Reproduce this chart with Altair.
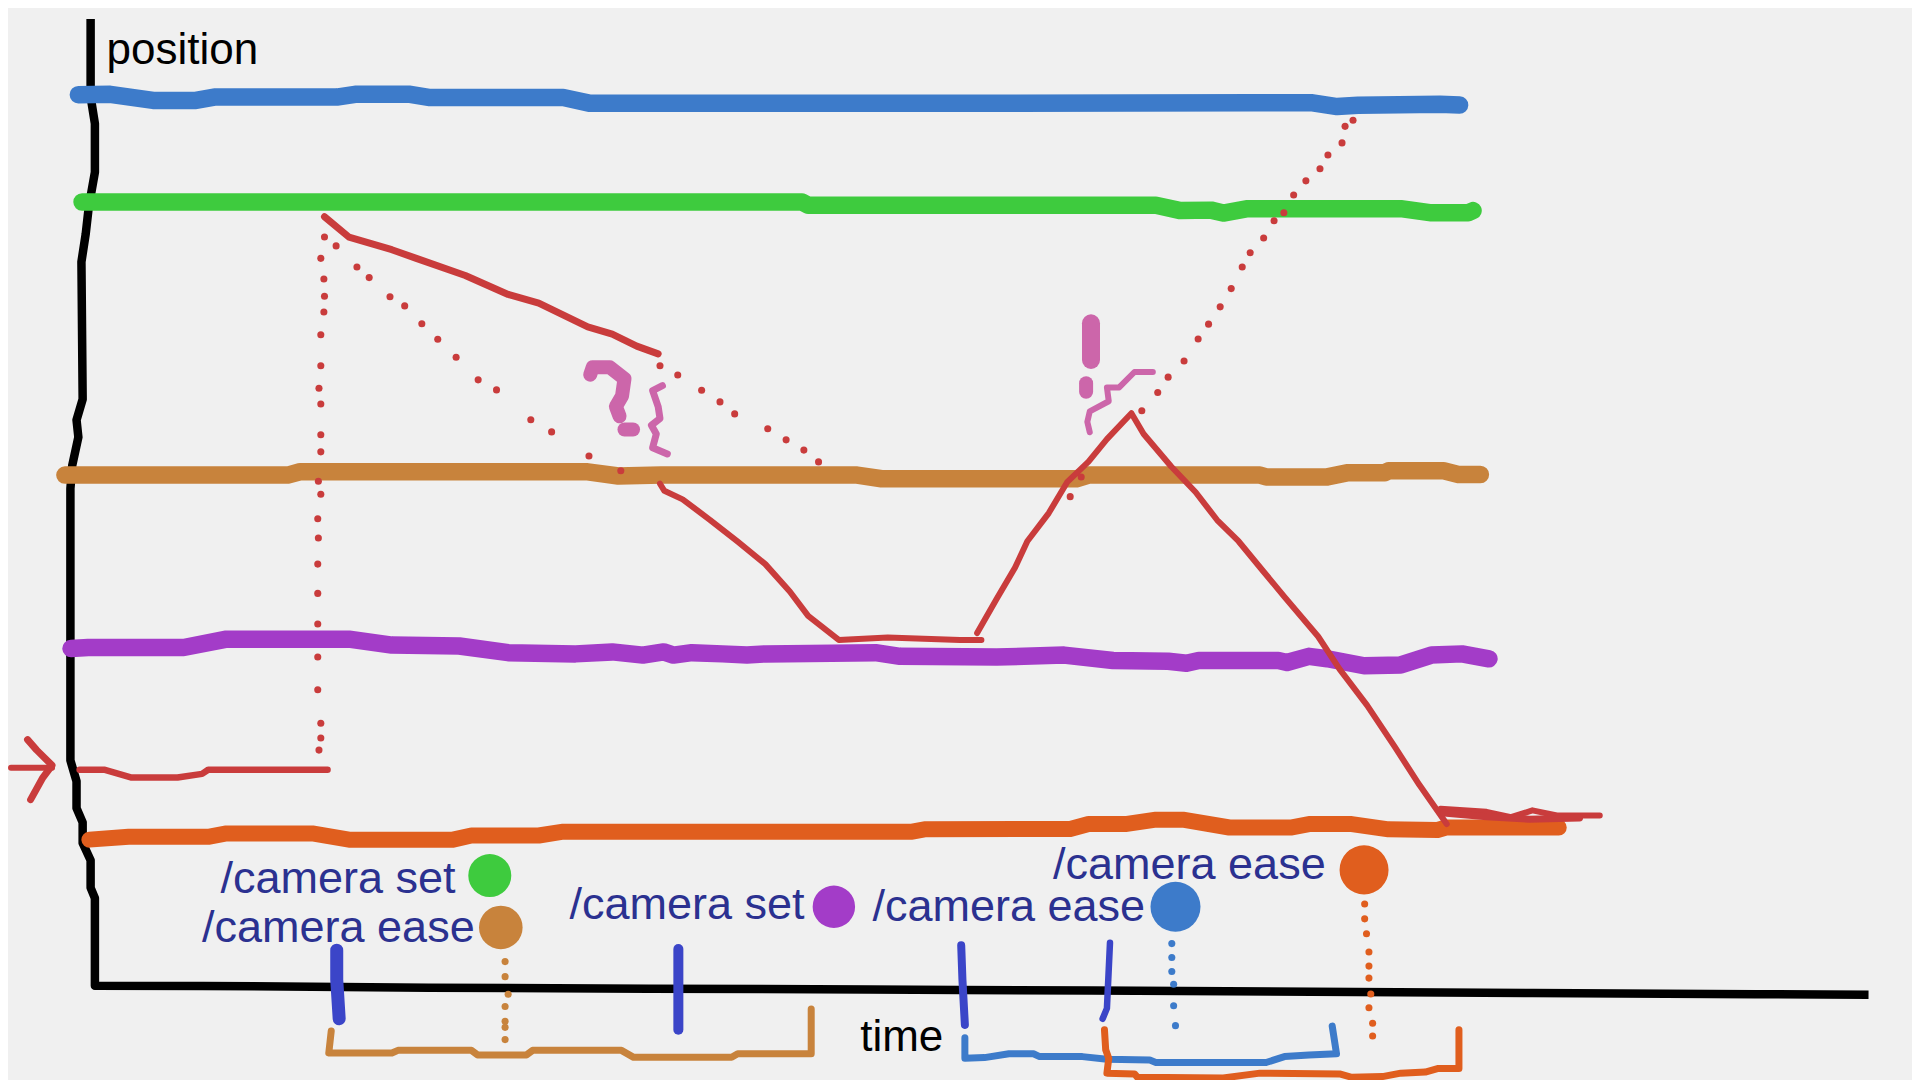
import altair as alt
import pandas as pd

BG = "#f0f0f0"
BLUE = "#3d7bca"; GREEN = "#3ecb3e"; BROWN = "#c8833c"; PURPLE = "#a33cc8"
ORANGE = "#e05e1e"; RED = "#c93c3c"; PINK = "#cc66aa"; TICK = "#3b45c8"; INK = "#2b3190"

axis_line = [(74,15.5),(74,79),(77.5,101),(77.5,140.6),(72.5,168.8),(70,191),(66.5,213.8),(67.5,326),(62.5,343),(64,357),(59,380),(57.5,399),(57.5,621),(62.5,638),(62.5,660),(67.5,671.6),(67.5,688.5),(74,702.6),(74,725),(77.5,733.5),(77.5,805),(165,805.2),(350,806.6),(530,807.5),(710,808),(784,808.5),(891.5,809),(1071.5,810),(1251.5,811),(1434,812),(1526,812.3)]

blue_line = [(64,77.3),(90,77),(125,82),(160,82),(175,79.3),(275,79.3),(290,77),(335,77),(350,79.6),(460,79.6),(482,84.4),(784,84.4),(1024,84),(1072,84),(1092,87),(1109,86),(1176,85.2),(1192,85.8)]
green_line = [(67,165),(655,165),(660,167.6),(944,167.6),(964,172),(989,171.6),(999,174),(1019,170.4),(1144,170.4),(1169,173.8),(1199,173.8),(1203,172)]
brown_line = [(53,388),(235,388),(245,385.3),(480,385.3),(505,388.7),(540,388),(700,388),(720,391),(879,391),(889,388),(1029,388),(1034,389.5),(1084,389.5),(1101,386),(1131,386),(1134,384.5),(1179,384.5),(1191,387.5),(1209,387.5)]
purple_line = [(58,529.6),(72,528.8),(150,528.8),(185,522),(285,522),(320,526.8),(375,527.6),(415,533),(470,534),(500,532.4),(525,535),(542,532.4),(550,535),(565,533),(590,534),(610,535),(625,534),(715,533),(735,536),(814,536.6),(869,535),(909,539.4),(954,540),(969,541.7),(979,539.4),(1044,539.4),(1051,541),(1069,536),(1084,538),(1114,543.7),(1144,543),(1169,535),(1194,534),(1216,538)]
orange_line = [(73,685.7),(105,683.4),(170,683.4),(185,680.6),(255,680.6),(285,685.7),(370,685.7),(385,682.3),(440,682.3),(460,679.2),(745,679.2),(755,677.3),(874,677),(889,673),(919,673),(944,669.4),(966,669.4),(1004,675.8),(1054,675.8),(1069,673),(1104,673),(1134,677.3),(1174,677.8),(1181,675.8),(1273,675.8)]

red_start = [(65,628.6),(85,628.6),(107.5,635),(145,635),(165,632),(170,628.6),(267.5,628.6)]
red_arrow_shaft = [(9,627),(42.5,627)]
red_arrow_head = [(22.5,604),(30,612.6),(42.5,625),(35,635),(25,653)]
red_fall_a = [(265,177),(285,193.7),(320,203.9),(340,211),(380,225),(415,240.5),(440,247.5),(480,267),(500,272.8),(520,282.7),(537.5,289)]
red_fall_b = [(539,395),(542.5,400.8),(557.5,407.8),(580,424.7),(602.5,442.4),(625,460.7),(645,483),(660,503),(685,522.6),(725,520.6),(784,522.6),(801.5,522.6)]
red_peak = [(798,517),(814,489),(829,463.5),(839,442),(856.5,419),(871.5,393.8),(889,377),(904,358.6),(924,337.5),(934,354.4),(956.5,381),(976.5,402),(994,424.7),(1011.5,442),(1031.5,466.3),(1049,487.4),(1076.5,519.8),(1094,546.5),(1116.5,576),(1139,609.8),(1159,640.7),(1181.5,673)]
red_end_a = [(1176.5,660.4),(1214,663),(1234,667.4),(1251.5,661.8),(1271.5,666),(1306.5,666)]
red_end_b = [(1179,664),(1214,667),(1249,669),(1290,668)]

tick_1 = [(275,776),(275,800),(277,832)]
tick_2 = [(554,775),(554,841)]
tick_3 = [(785,772),(786,800),(788,837)]
tick_4 = [(906.5,770),(904,823.5),(900.5,832)]

bracket_brown = [(270.5,842),(268.5,860),(320,860),(325,857.8),(385,857.8),(390,861.5),(430,861.5),(435,857.8),(507.5,857.8),(517.5,863.5),(597.5,863.5),(602.5,860.6),(662.5,860.6),(662.5,824)]
bracket_blue = [(788,847.4),(788,864.3),(804,863.7),(824,860.6),(844,860.6),(849,862.9),(884,862.9),(904,865),(939,865.7),(944,867.7),(1034,867.7),(1049,862.9),(1069,861.5),(1091.5,860.6),(1088,838)]
bracket_orange = [(902,841),(903,857.3),(905.5,864.3),(904,876.4),(926.5,877),(929,879.8),(999,880.3),(1029,876.4),(1094,877),(1104,879.8),(1129,879.2),(1144,876.4),(1164,875.5),(1174,872.7),(1191.5,872.7),(1191.5,841)]

question_hook = [(482,306),(484,300),(498,300),(510,309.4),(508,323.4),(503,332),(506,340)]
question_dot = [(510,350.7),(517,350.7)]
brace = [(541,315),(533,319),(537.5,332),(539,341.7),(532,347.3),(536,354.4),(533,365.6),(545,370.7)]
bang_bar = [(891,264),(891,294)]
bang_dot = [(887,313),(887,320)]
squiggle = [(941.5,303.8),(926.5,303.8),(914,316.4),(904,316.4),(905.5,327.7),(890,336),(888,344.5),(890,353)]

dots_red = [(265,193.5),(262,211),(264.5,227.8),(265,242),(264.5,254.8),(262,273.4),(262,298.7),(260.5,317),(262,330),(262,355),(262,369),(260,393),(262,403.6),(259.5,423.6),(260,439.3),(259.5,460.7),(259.5,484.6),(259.5,509.6),(259.5,536.6),(259.5,563.3),(262,590.6),(262,602.7),(260.5,612.6),
 (274.5,200.8),(291.5,218),(301.5,226.7),(318.5,242.4),(330.5,249.8),(344.5,264.4),(357.5,277),(372.5,291.7),(390.5,310.2),(405.5,318.4),(433.5,342.8),(450.5,352.7),(481,372.4),(507,384.5),
 (539,298.7),(553.5,306.3),(573,318.7),(588,328.2),(600,338),(627,350.2),(642,359.2),(656.5,367.6),(668.5,377.2),
 (932.5,335.5),(945.5,320.6),(954,308),(967,294.8),(978.5,276.8),(987,264.7),(996.5,250.6),(1005.5,235.7),(1014.5,218),(1021,206.4),(1032,194.3),(1040.5,180.3),(1048.5,173.8),(1056.5,159.2),(1066.5,147.7),(1078,137.8),(1084.5,126.6),(1096,116.7),(1098.5,103.2),(1105,98.2),(874,405.6),(883,389.5)]
dots_brown = [(412.5,785.3),(412.5,797.6),(415,812),(412.5,822),(412.5,834),(412.5,839),(412.5,849)]
dots_blue = [(957,770.6),(957,782),(957,793.4),(958.5,803.8),(958.5,821.3),(960,837.6)]
dots_orange = [(1114.5,738.3),(1114.5,750.4),(1116,762.5),(1118,777.4),(1118,789),(1118,798.8),(1119.5,811.7),(1118,823),(1121,835.6),(1121,846)]

blobs = [(400,715,GREEN,1850),(409,757.4,BROWN,1900),(681,740.5,PURPLE,1800),(960,740.5,BLUE,2500),(1114,710.4,ORANGE,2400)]

labels = [(87,52,"position","black"),(702.5,858.5,"time","black"),
          (180,729.5,"/camera set",INK),(165,769,"/camera ease",INK),
          (465,750.8,"/camera set",INK),(712.5,752.2,"/camera ease",INK),
          (860,718.2,"/camera ease",INK)]

X = alt.X("x:Q", scale=alt.Scale(domain=[6.53, 1561.5], nice=False, zero=False), axis=None)
Y = alt.Y("y:Q", scale=alt.Scale(domain=[882, 6.53], nice=False, zero=False), axis=None)


def line(pts, color, width, cap="round"):
    df = pd.DataFrame(pts, columns=["x", "y"]).assign(i=lambda d: d.index)
    return alt.Chart(df).mark_line(color=color, strokeWidth=width, strokeCap=cap, strokeJoin="round").encode(
        x=X, y=Y, order=alt.Order("i:Q"))


def dots(pts, color, size=50):
    df = pd.DataFrame(pts, columns=["x", "y"])
    return alt.Chart(df).mark_point(filled=True, opacity=1, color=color, size=size, shape="circle").encode(x=X, y=Y)


layers = [line(axis_line, "black", 8.5, "butt")]
for pts, c, w in [(blue_line, BLUE, 17.5), (green_line, GREEN, 17.5), (brown_line, BROWN, 17.5), (purple_line, PURPLE, 17.5), (orange_line, ORANGE, 16),
                  (red_start, RED, 6.5), (red_arrow_shaft, RED, 6), (red_arrow_head, RED, 7),
                  (red_fall_a, RED, 7), (red_fall_b, RED, 6), (red_peak, RED, 6), (red_end_a, RED, 6), (red_end_b, RED, 7),
                  (tick_1, TICK, 13), (tick_2, TICK, 10), (tick_3, TICK, 8), (tick_4, TICK, 6.5),
                  (bracket_brown, BROWN, 7), (bracket_blue, BLUE, 7), (bracket_orange, ORANGE, 7),
                  (question_hook, PINK, 14), (question_dot, PINK, 14), (brace, PINK, 7),
                  (bang_bar, PINK, 18), (bang_dot, PINK, 14), (squiggle, PINK, 6)]:
    layers.append(line(pts, c, w))
layers += [dots(dots_red, RED), dots(dots_brown, BROWN), dots(dots_blue, BLUE), dots(dots_orange, ORANGE)]
for x, y, c, s in blobs:
    layers.append(dots([(x, y)], c, s))
for x, y, t, c in labels:
    df = pd.DataFrame({"x": [x], "y": [y], "t": [t]})
    layers.append(alt.Chart(df).mark_text(align="left", baseline="alphabetic", font="Liberation Sans",
                                           fontSize=45 if c == INK else 44, color=c).encode(x=X, y=Y, text="t:N"))

chart = alt.layer(*layers).properties(
    width=1904, height=1072, background=BG, padding=0,
    autosize=alt.AutoSizeParams(type="none"),
).configure_view(stroke=None)
chart.save("out.html", embed_options={"renderer": "svg", "actions": False})
